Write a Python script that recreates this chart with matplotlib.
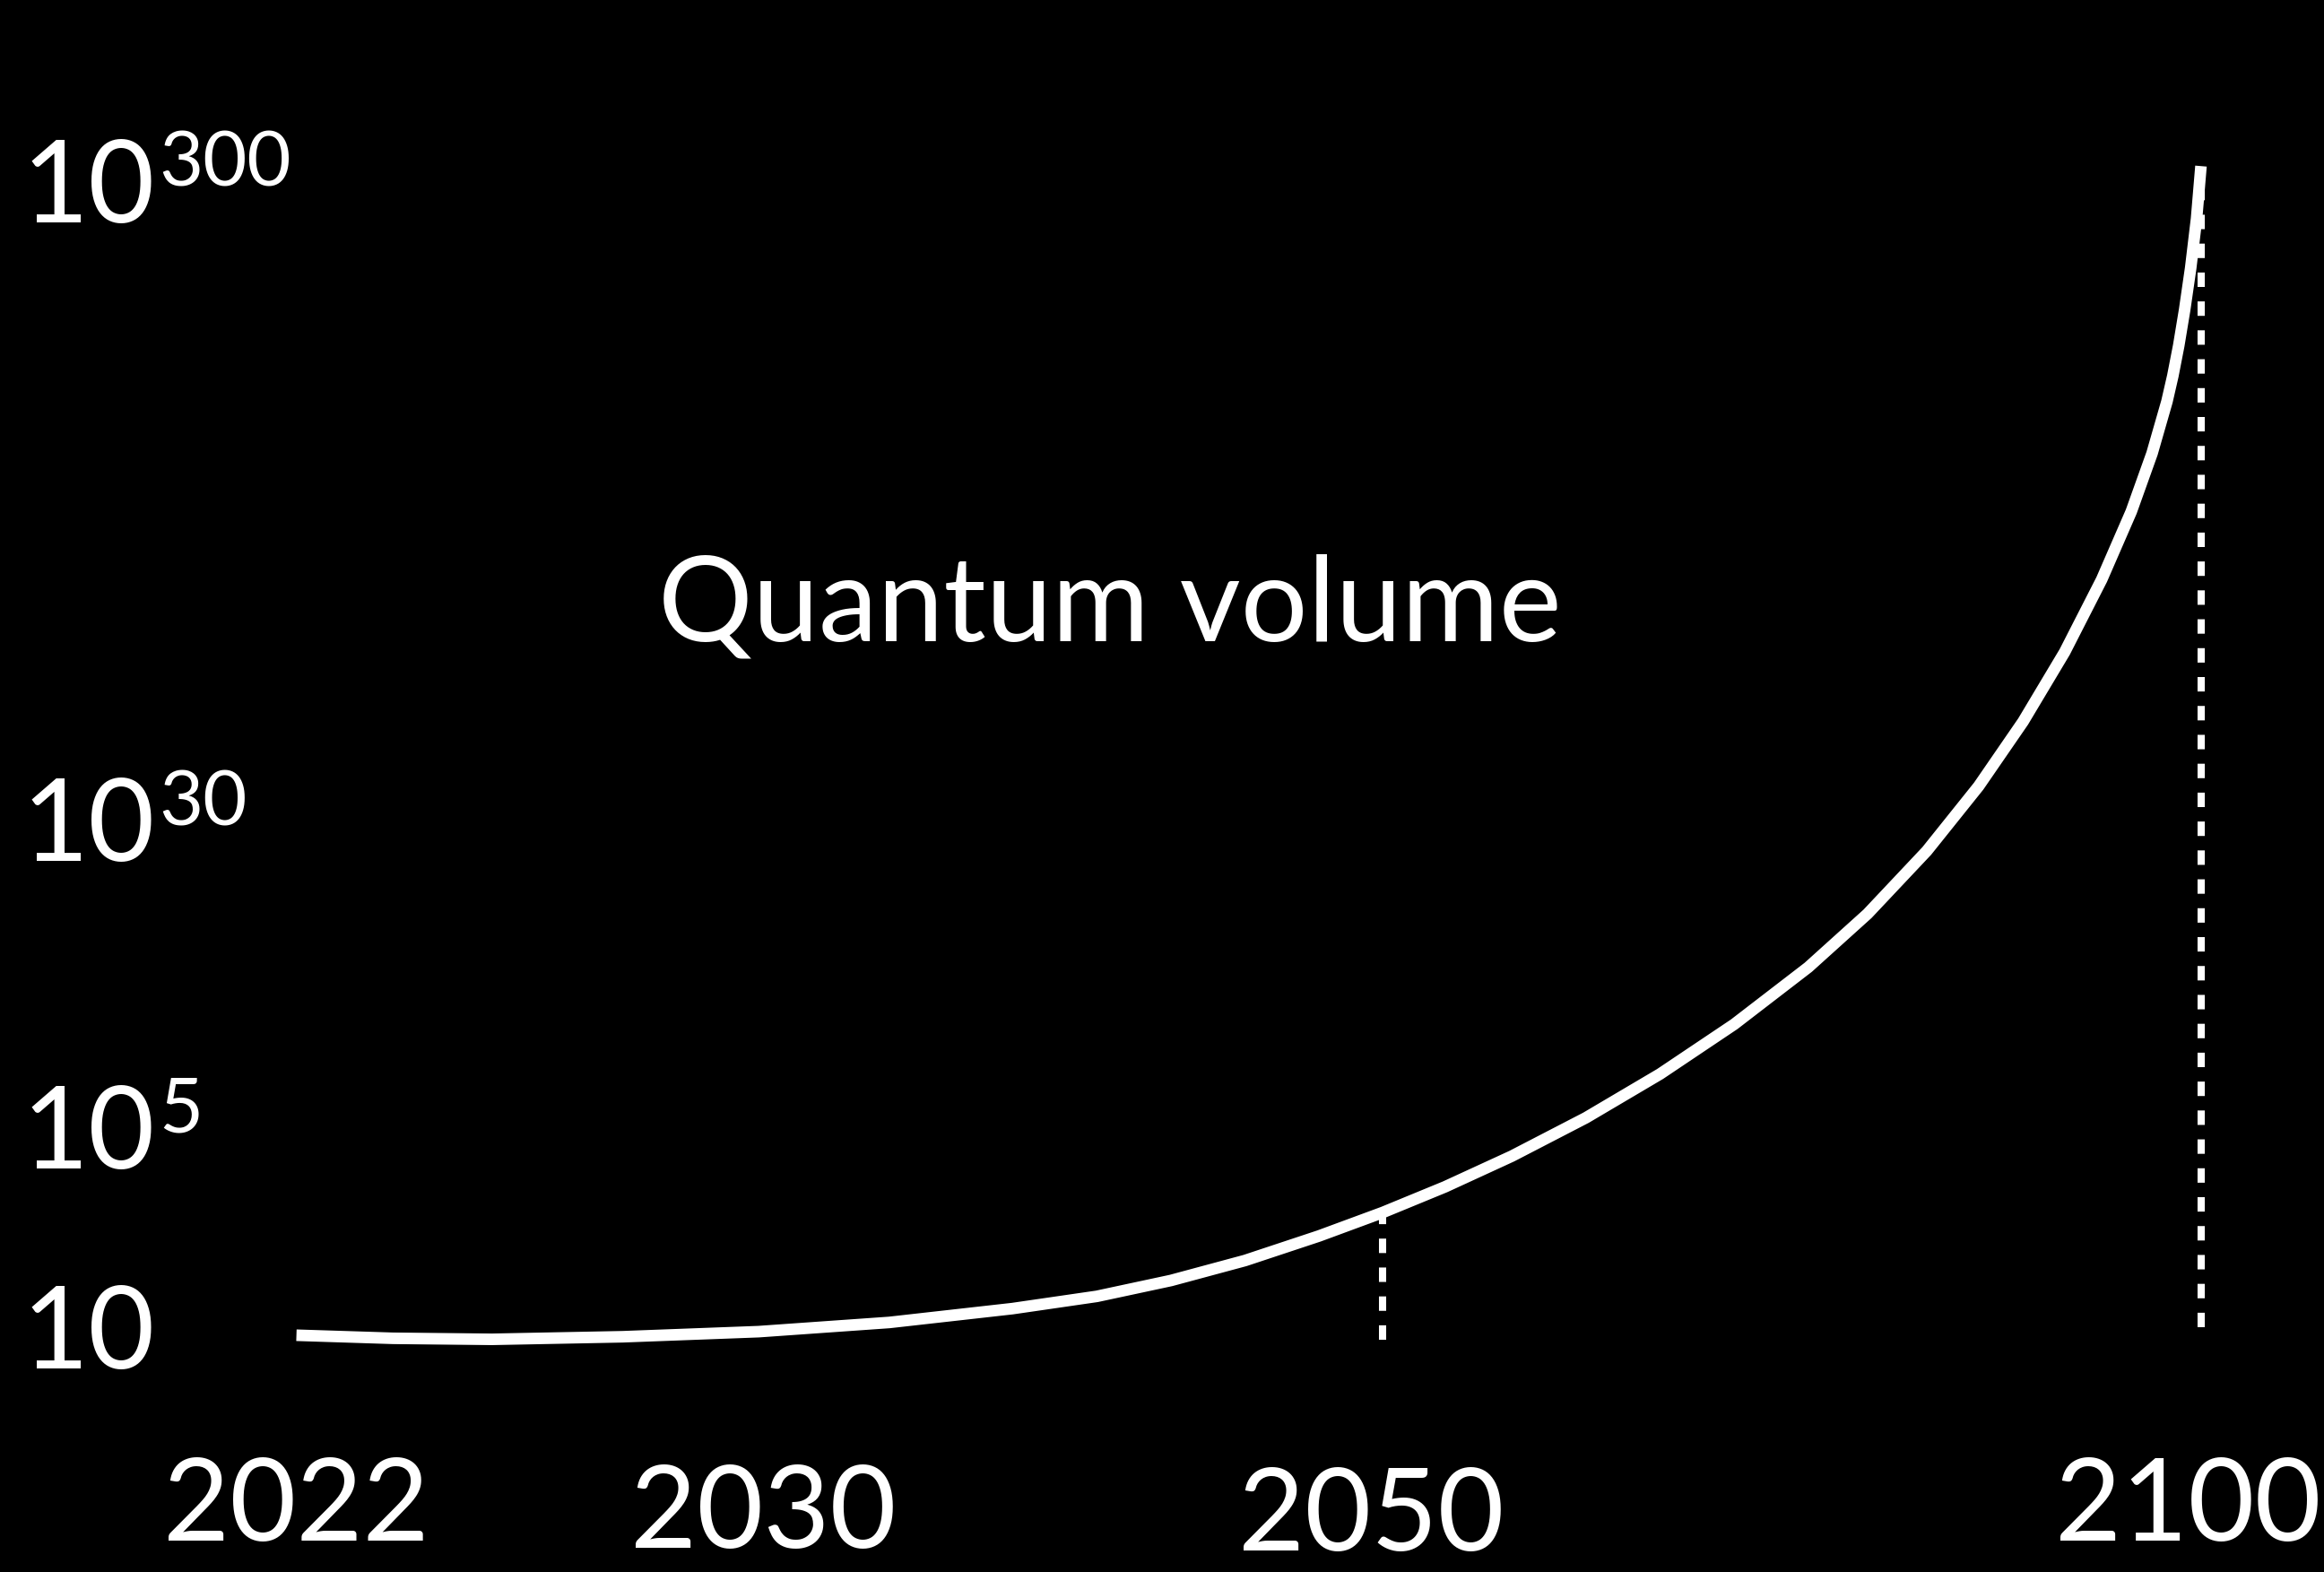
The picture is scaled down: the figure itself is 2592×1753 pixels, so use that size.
import numpy as np
import matplotlib.pyplot as plt

# quantum volume projection (schematic)
years = [2022, 2023.65, 2025.35, 2027.59, 2029.92, 2034.07, 2038.04, 2040.77,
         2043.16, 2045.55, 2047.94, 2050, 2053.80, 2057.88, 2062.41, 2066.94,
         2071.47, 2076.00, 2079.62, 2083.24, 2086.41, 2089.13, 2091.67, 2093.93,
         2095.74, 2097.01, 2097.92, 2098.28, 2098.64, 2099.00, 2099.37, 2099.73, 2100]
qv_exp = [0.99, 0.93, 0.91, 0.96, 1.06, 1.24, 1.51, 1.75,
          2.06, 2.45, 2.93, 3.39, 3.89, 4.49, 5.99, 9.52,
          13.53, 18.13, 22.44, 27.51, 44.0, 70.7, 99.4, 129.3,
          157.4, 181.4, 202.8, 213.4, 225.9, 240.6, 257.9, 278.3, 300]  # log10(QV)

year_ticks = [2022, 2030, 2050, 2100]
exp_ticks = [1, 5, 30, 300]
exp_labels = ['', '5', '30', '300']

# dashed markers: year, bottom and top (log10 QV)
mark_years = [2050, 2100]
mark_low = [0.91, 1.145]
mark_high = [3.39, 295]

# the axes are not linear: each tick sits at its own place (reference is 1568 x 1060)
x_pos = [200, 515, 933, 1485]
y_pos = [160, 298, 507, 948]
REF_W, REF_H = 1568, 1060
PT = 2592 / REF_W * 72 / 100   # reference px -> points

FONT = ['Lato', 'DejaVu Sans']
WHITE = 'white'


def piecewise(xp, fp):
    xp = np.asarray(xp, float)
    fp = np.asarray(fp, float)

    def f(v):
        v = np.asarray(v, float)
        out = np.interp(v, xp, fp)
        lo = fp[0] + (v - xp[0]) * (fp[1] - fp[0]) / (xp[1] - xp[0])
        hi = fp[-1] + (v - xp[-1]) * (fp[-1] - fp[-2]) / (xp[-1] - xp[-2])
        out = np.where(v < xp[0], lo, out)
        out = np.where(v > xp[-1], hi, out)
        return out
    return f


x_fwd, x_inv = piecewise(year_ticks, x_pos), piecewise(x_pos, year_ticks)
y_fwd, y_inv = piecewise(exp_ticks, y_pos), piecewise(y_pos, exp_ticks)

fig = plt.figure(figsize=(25.92, 17.53), dpi=100, facecolor='black')
ax = fig.add_axes([0, 0, 1, 1])
ax.set_facecolor('black')
ax.set_xscale('function', functions=(x_fwd, x_inv))
ax.set_yscale('function', functions=(y_fwd, y_inv))
ax.set_xlim(float(x_inv(0)), float(x_inv(REF_W)))
ax.set_ylim(float(y_inv(0)), float(y_inv(REF_H)))
ax.axis('off')

# dashed year markers under the curve
ax.vlines(mark_years, mark_low, mark_high, colors=WHITE, linewidth=5.8,
          linestyles=(0, (2, 2)), zorder=1)

ax.plot(years, qv_exp, color=WHITE, linewidth=9.3, solid_capstyle='butt',
        solid_joinstyle='round', zorder=2)

# year labels
year_dx = [0, 0, -8, -9]
year_dy = [-2, -7, -9, -2]
for yr, dx, dy in zip(year_ticks, year_dx, year_dy):
    ax.annotate(str(yr), xy=(yr, 45 / REF_H), xycoords=('data', 'axes fraction'),
                xytext=(dx * PT, dy * PT), textcoords='offset points',
                ha='center', va='center', fontsize=92, color=WHITE, family=FONT)

# power-of-ten labels
label_dy = [-1, -4, -6, -16]
for e, sup, dy in zip(exp_ticks, exp_labels, label_dy):
    ax.annotate('10', xy=(0, e), xycoords=('axes fraction', 'data'),
                xytext=(15 * PT, dy * PT), textcoords='offset points',
                ha='left', va='center', fontsize=92, color=WHITE, family=FONT)
    if sup:
        ax.annotate(sup, xy=(0, e), xycoords=('axes fraction', 'data'),
                    xytext=(107 * PT, (dy + 17) * PT), textcoords='offset points',
                    ha='left', va='center', fontsize=61, color=WHITE, family=FONT)

ax.text(749 / REF_W, (REF_H - 432) / REF_H, 'Quantum volume', transform=ax.transAxes,
        ha='center', va='baseline', fontsize=95, color=WHITE, family=FONT)

fig.savefig('out.png', dpi=100, facecolor='black')
